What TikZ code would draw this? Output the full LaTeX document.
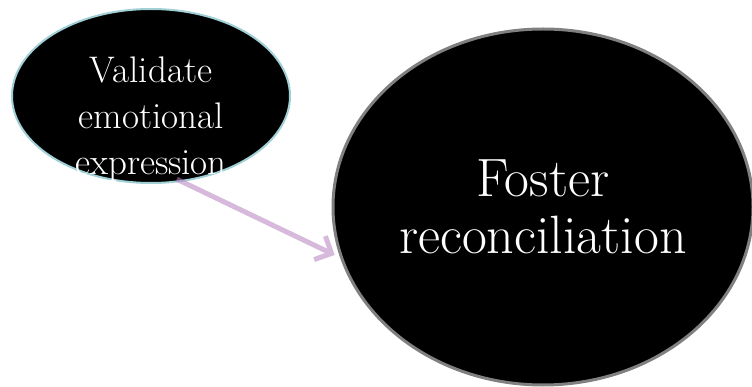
\documentclass[tikz,border=0pt]{standalone}
\usepackage{fontspec}
\usetikzlibrary{arrows.meta,shapes.geometric}
\definecolor{rimteal}{RGB}{160,208,214}
\definecolor{rimgray}{RGB}{128,128,128}
\definecolor{linkpurple}{RGB}{180,128,190}

\begin{document}
\begin{tikzpicture}[x=1pt,y=-1pt,
	bubble/.style={ellipse, fill=black, inner sep=0pt, text=white, align=center},
	link/.style={line width=5pt, draw=linkpurple, -{Straight Barb[length=13pt,width=26pt]}}]
			\useasboundingbox (0,0) rectangle (752,387);
			\node[bubble, draw=rimteal, line width=2pt, minimum width=278pt, minimum height=174pt] (val) at (151,96) {};
			\node[text=white, align=center, font=\fontsize{37}{46}\selectfont] (valtext) at (151,119) {Validate\\emotional\\expression};
			\node[bubble, draw=rimgray, line width=3pt, minimum width=420pt, minimum height=356pt,
				font=\fontsize{54}{57}\selectfont] (fos) at (543,207) {Foster\\reconciliation};
			\begin{scope}[transparency group, opacity=0.55]
				\draw[link, shorten <=-6pt, shorten >=6pt] (val.-70) -- (fos.194);
			\end{scope}
		\end{tikzpicture}
\end{document}
